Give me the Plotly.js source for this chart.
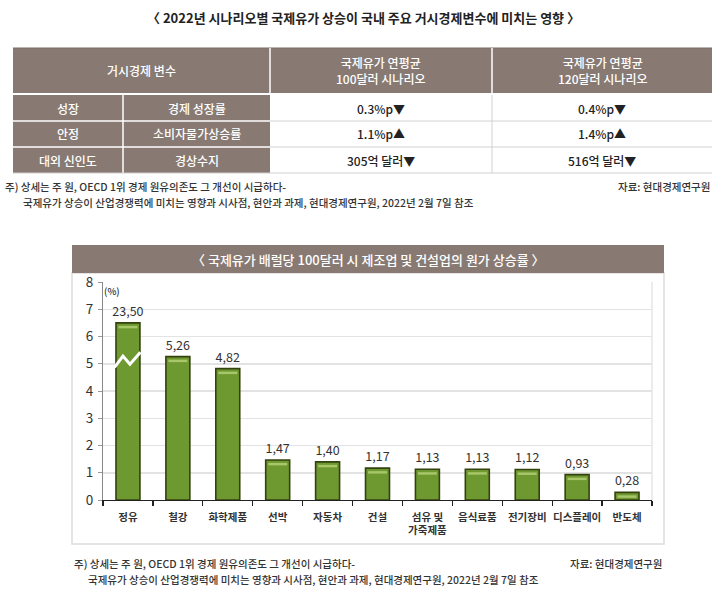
<!DOCTYPE html>
<html>
<head>
<meta charset="utf-8">
<script src="https://cdn.plot.ly/plotly-3.0.1.min.js"></script>
<style>html,body{margin:0;padding:0;background:#fff;}#chart{width:727px;height:609px;}</style>
</head>
<body>
<div id="chart"></div>
<script>
// ---------- data ----------
const tableTitle = "〈 2022년 시나리오별 국제유가 상승이 국내 주요 거시경제변수에 미치는 영향 〉";
const headerVar = "거시경제 변수";
const headerScen = ["국제유가 연평균<br>100달러 시나리오", "국제유가 연평균<br>120달러 시나리오"];
const rowGroups = ["성장", "안정", "대외 신인도"];
const rowVars = ["경제 성장률", "소비자물가상승률", "경상수지"];
const scen100 = ["0.3%p▼", "1.1%p▲", "305억 달러▼"];
const scen120 = ["0.4%p▼", "1.4%p▲", "516억 달러▼"];
const noteLine1 = "주) 상세는 주 원, OECD 1위 경제 원유의존도 그 개선이 시급하다-";
const noteLine2 = "국제유가 상승이 산업경쟁력에 미치는 영향과 시사점, 현안과 과제, 현대경제연구원, 2022년 2월 7일 참조";
const sourceText = "자료: 현대경제연구원";

const chartTitle = "〈 국제유가 배럴당 100달러 시 제조업 및 건설업의 원가 상승률 〉";
const categories = ["정유", "철강", "화학제품", "선박", "자동차", "건설", "섬유 및<br>가죽제품", "음식료품", "전기장비", "디스플레이", "반도체"];
const values = [23.50, 5.26, 4.82, 1.47, 1.40, 1.17, 1.13, 1.13, 1.12, 0.93, 0.28];
const breakCap = 6.5;            // axis-break display height for off-scale bars
const yTicks = [0, 1, 2, 3, 4, 5, 6, 7, 8];
const unitLabel = "(%)";

// ---------- helpers ----------
const W = 727, H = 609;
const px = x => x / W;
const py = y => 1 - y / H;
const BROWN = "#887a73";
const KR = "Noto Sans CJK KR, sans-serif";

const shapes = [];
const annotations = [];
function rect(x0, y0, x1, y1, fill, line) {
  shapes.push({type: "rect", xref: "paper", yref: "paper", x0: px(x0), x1: px(x1), y0: py(y1), y1: py(y0),
    fillcolor: fill, line: line || {width: 0}, layer: "below"});
}
function seg(x0, y0, x1, y1, color, width, layer) {
  shapes.push({type: "line", xref: "paper", yref: "paper", x0: px(x0), x1: px(x1), y0: py(y0), y1: py(y1),
    line: {color: color, width: width}, layer: layer || "above"});
}
function txt(x, y, text, size, color, anchor, weight) {
  annotations.push({xref: "paper", yref: "paper", x: px(x), y: py(y), text: text, showarrow: false,
    xanchor: anchor || "center", yanchor: "middle",
    font: {family: KR, size: size, color: color, weight: weight || 500}});
}

// ---------- table ----------
const colEdges = [13, 123, 270, 492, 712];
const hTop = 48, hBot = 93, rowTop0 = 95, rowH = 26;
txt(363, 18, tableTitle, 13, "#222", "center", 600);
rect(colEdges[0], hTop, colEdges[4], hBot, BROWN);
seg(colEdges[0], hTop, colEdges[4], hTop, "#7a6c66", 1);
seg(colEdges[2], hTop, colEdges[2], hBot, "#ffffff", 1.5);
seg(colEdges[3], hTop, colEdges[3], hBot, "#ffffff", 1.5);
txt((colEdges[0] + colEdges[2]) / 2, (hTop + hBot) / 2, headerVar, 12, "#ffffff");
headerScen.forEach((t, i) => txt((colEdges[2 + i] + colEdges[3 + i]) / 2, (hTop + hBot) / 2, t, 12, "#ffffff"));
const tableBottom = rowTop0 + rowH * rowGroups.length;
rect(colEdges[0], rowTop0, colEdges[2], tableBottom, BROWN);
seg(colEdges[1], rowTop0, colEdges[1], tableBottom, "#ffffff", 1.5);
seg(colEdges[3], rowTop0, colEdges[3], tableBottom, "#d2d2d2", 1);
rowGroups.forEach((g, i) => {
  const y0 = rowTop0 + i * rowH, yc = y0 + rowH / 2;
  if (i > 0) {
    seg(colEdges[0], y0, colEdges[2], y0, "#ffffff", 1.5);
    seg(colEdges[2], y0, colEdges[4], y0, "#d2d2d2", 1);
  }
  txt((colEdges[0] + colEdges[1]) / 2, yc, g, 12, "#ffffff");
  txt((colEdges[1] + colEdges[2]) / 2, yc, rowVars[i], 12, "#ffffff");
  txt((colEdges[2] + colEdges[3]) / 2, yc, scen100[i], 12, "#222");
  txt((colEdges[3] + colEdges[4]) / 2, yc, scen120[i], 12, "#222");
});
seg(colEdges[0], tableBottom, colEdges[4], tableBottom, "#cfcfcf", 1);
txt(3, 186, noteLine1, 10.5, "#333", "left");
txt(21, 202, noteLine2, 10.5, "#333", "left");
txt(712, 186, sourceText, 10.5, "#333", "right");

// ---------- chart frame ----------
rect(72, 273, 664, 544, "rgba(0,0,0,0)", {color: "#dcdcdc", width: 1.5});
rect(72, 245, 664, 273, BROWN);
txt(368, 259, chartTitle, 13, "#ffffff");
txt(72, 563, noteLine1, 10.5, "#333", "left");
txt(86, 579, noteLine2, 10.5, "#333", "left");
txt(664, 563, sourceText, 10.5, "#333", "right");
seg(652, 282, 652, 500, "#e6e6e6", 1.5, "below");

// ---------- bars ----------
const idx = categories.map((_, i) => i);
const shown = values.map(v => Math.min(v, breakCap));
const labels = values.map(v => v.toFixed(2).replace(".", ","));
const NUM = "Liberation Sans Narrow, Noto Sans CJK KR, sans-serif";

const bars = {
  type: "bar", x: idx, y: shown, width: 0.48,
  marker: {color: "#6e9830", line: {color: "#34420f", width: 1.6}},
  text: labels, textposition: "outside", cliponaxis: false, constraintext: "none",
  textfont: {family: NUM, size: 12.5, color: "#333"},
  hoverinfo: "skip", xaxis: "x", yaxis: "y"
};
const shine = {
  type: "bar", x: idx, y: shown.map(() => 0.09), base: shown.map(v => v - 0.2), width: 0.38,
  marker: {color: "#a8c76a", line: {width: 0}}, hoverinfo: "skip", xaxis: "x", yaxis: "y"
};
const breaks = [];
values.forEach((v, i) => {
  if (v > breakCap) {
    breaks.push({
      type: "scatter", mode: "lines", x: [i - 0.27, i - 0.1, i + 0.04, i + 0.25], y: [4.87, 5.28, 4.98, 5.42],
      line: {color: "#ffffff", width: 3}, hoverinfo: "skip", xaxis: "x", yaxis: "y"
    });
  }
});
const tickAnchor = {
  type: "scatter", mode: "markers", x: [-0.5, 10.5], y: [0, 0], marker: {opacity: 0}, hoverinfo: "skip",
  xaxis: "x2", yaxis: "y"
};

txt(112, 291, unitLabel, 9.5, "#333");

const layout = {
  width: W, height: H, margin: {l: 0, r: 0, t: 0, b: 0},
  paper_bgcolor: "#ffffff", plot_bgcolor: "rgba(0,0,0,0)",
  showlegend: false, barmode: "overlay",
  font: {family: KR, color: "#333"},
  xaxis: {
    domain: [px(103), px(652)], range: [-0.5, 10.5], anchor: "y",
    tickvals: idx, ticktext: categories, ticks: "", showgrid: false, zeroline: false,
    showline: false, tickfont: {family: KR, size: 10.5, color: "#333", weight: 600}, ticklabelstandoff: 9
  },
  xaxis2: {
    domain: [px(103), px(652)], range: [-0.5, 10.5], anchor: "y", overlaying: "x",
    tickvals: idx.concat([idx.length]).map(i => i - 0.5), showticklabels: false,
    ticks: "outside", ticklen: 5, tickcolor: "#222", tickwidth: 1.2,
    showline: true, linecolor: "#222", linewidth: 1.3, showgrid: false, zeroline: false
  },
  yaxis: {
    domain: [py(500), py(282)], range: [0, 8], tickvals: yTicks,
    ticks: "outside", ticklen: 4, tickcolor: "#999",
    showline: true, linecolor: "#888", linewidth: 1,
    gridcolor: "#e3e3e3", gridwidth: 1.5, zeroline: false,
    tickfont: {family: NUM, size: 13.5, color: "#333"}, ticklabelstandoff: 2
  },
  shapes: shapes, annotations: annotations
};

Plotly.newPlot("chart", [bars, shine].concat(breaks).concat([tickAnchor]), layout, {displayModeBar: false, staticPlot: true});
</script>
</body>
</html>
